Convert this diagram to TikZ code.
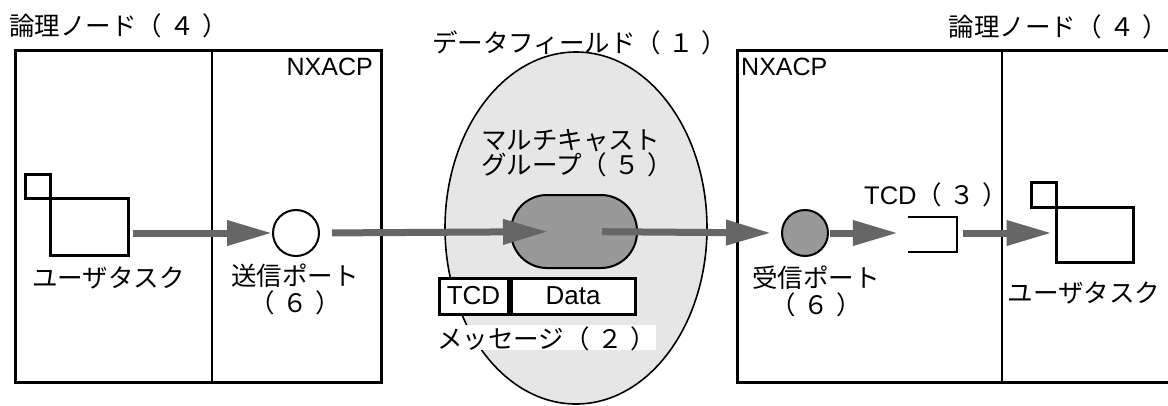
\documentclass[tikz,border=0pt]{standalone}
\usepackage{fontspec}
\setmainfont{Liberation Sans}
\newfontfamily\jp{Noto Sans CJK JP}
\usetikzlibrary{arrows.meta,shapes.geometric}
\definecolor{arrowgray}{HTML}{666666}
\definecolor{fieldgray}{HTML}{E6E6E6}
\definecolor{groupgray}{HTML}{999999}
\newcommand\pnum[1]{{\jp（\hspace{0.3em}#1\hspace{0.3em}）}}
\tikzset{
  txt/.style={inner sep=0pt, font=\fontsize{25}{25}\selectfont},
  jtxt/.style={inner sep=0pt, font=\fontsize{25.5}{27}\selectfont\jp},
  frame/.style={draw=black, line width=3pt},
  divider/.style={draw=black, line width=2pt},
  taskbox/.style={draw=black, line width=3pt, inner sep=0pt},
  port/.style={circle, draw=black, line width=2pt, minimum size=46pt, inner sep=0pt},
  flow/.style={draw=arrowgray, line width=7pt, -{Triangle[length=45pt,width=24pt]}},
  cell/.style={draw=black, line width=3pt, fill=white, inner sep=0pt, minimum height=36pt, font=\fontsize{26}{26}\selectfont},
}
\begin{document}
\begin{tikzpicture}[x=1pt,y=-1pt]
\useasboundingbox (0,0) rectangle (1168,405);
% data field ellipse
\node[ellipse, draw=black, line width=1.6pt, fill=fieldgray, minimum width=262pt, minimum height=352pt, inner sep=0pt] (field) at (576,228) {};
% left logical node
\draw[frame] (15,50) rectangle (381,382);
\draw[divider] (212,50) -- (212,382);
% right logical node
\draw[frame] (1185,50) -- (737,50) -- (737,382) -- (1185,382);
\draw[divider] (1002,50) -- (1002,382);
% titles
\node[jtxt, anchor=west] (titleL) at (9,26) {論理ノード\pnum{４}};
\node[jtxt, anchor=east] (titleR) at (1168,27) {論理ノード\pnum{４}\hspace{-0.75em}};
\node[jtxt, anchor=west] (fieldlbl) at (432,43) {データフィールド\pnum{１}};
\node[txt, anchor=east] (nxacpL) at (373,67) {NXACP};
\node[txt, anchor=west] (nxacpR) at (741,67) {NXACP};
% left user task
\node[taskbox, minimum width=25pt, minimum height=24pt] (taskLs) at (37.5,186) {};
\node[taskbox, minimum width=78pt, minimum height=57pt] (taskL) at (89,226.5) {};
\node[jtxt] (taskLlbl) at (108.5,278) {ユーザタスク};
% send port
\node[port, fill=white] (portS) at (296,233) {};
\node[jtxt, align=center] (portSlbl) at (295,289) {送信ポート\\\pnum{６}};
% multicast group
\node[draw=black, line width=2pt, fill=groupgray, rounded corners=36pt, minimum width=126pt, minimum height=73pt, inner sep=0pt] (group) at (574,231.5) {};
\node[jtxt, anchor=north west, align=left, font=\fontsize{25.5}{25}\selectfont\jp] (grouplbl) at (481,129) {マルチキャスト\\グループ\pnum{５}};
% message label (white backing) then message cells
\node[jtxt, fill=white, anchor=west, minimum height=25pt, minimum width=216pt, text depth=0pt, align=left] (msglbl) at (437,337.5) {メッセージ\pnum{２}\hfill};
\node[cell, minimum width=69pt] (mtcd) at (473.5,296) {TCD};
\node[cell, minimum width=124pt, anchor=west] (mdata) at (mtcd.east) {Data};
% receive port
\node[port, fill=groupgray] (portR) at (805,233) {};
\node[jtxt, align=center] (portRlbl) at (816,291) {受信ポート\\\pnum{６}};
% TCD buffer
\node[inner sep=0pt, minimum width=49pt, minimum height=35pt] (tcdbuf) at (932.5,234.5) {};
\draw[line width=2pt] (tcdbuf.north west) -- (tcdbuf.north east) -- (tcdbuf.south east) -- (tcdbuf.south west);
\node[anchor=west, inner sep=0pt, font=\fontsize{25.5}{25}\selectfont] (tcdlbl) at (864,195) {TCD\pnum{３}};
% right user task
\node[taskbox, minimum width=25pt, minimum height=25pt] (taskRs) at (1043.5,194.5) {};
\node[taskbox, minimum width=77pt, minimum height=55pt] (taskR) at (1094.5,234.5) {};
\node[jtxt] (taskRlbl) at (1084,293) {ユーザタスク};
% flows
\draw[flow, shorten <=3pt] (taskL.east |- portS.west) -- (portS.west);
\draw[flow, shorten <=12pt, shorten >=26pt] (portS.east) -- (group.center);
\draw[flow, shorten <=28pt, shorten >=10pt] (group.center) -- (portR.west);
\draw[flow, shorten <=1pt, shorten >=10pt] (portR.east) -- (tcdbuf.west |- portR.east);
\draw[flow, shorten <=6pt, shorten >=3pt] (tcdbuf.east |- portR.east) -- (taskR.west |- portR.east);
\end{tikzpicture}
\end{document}
